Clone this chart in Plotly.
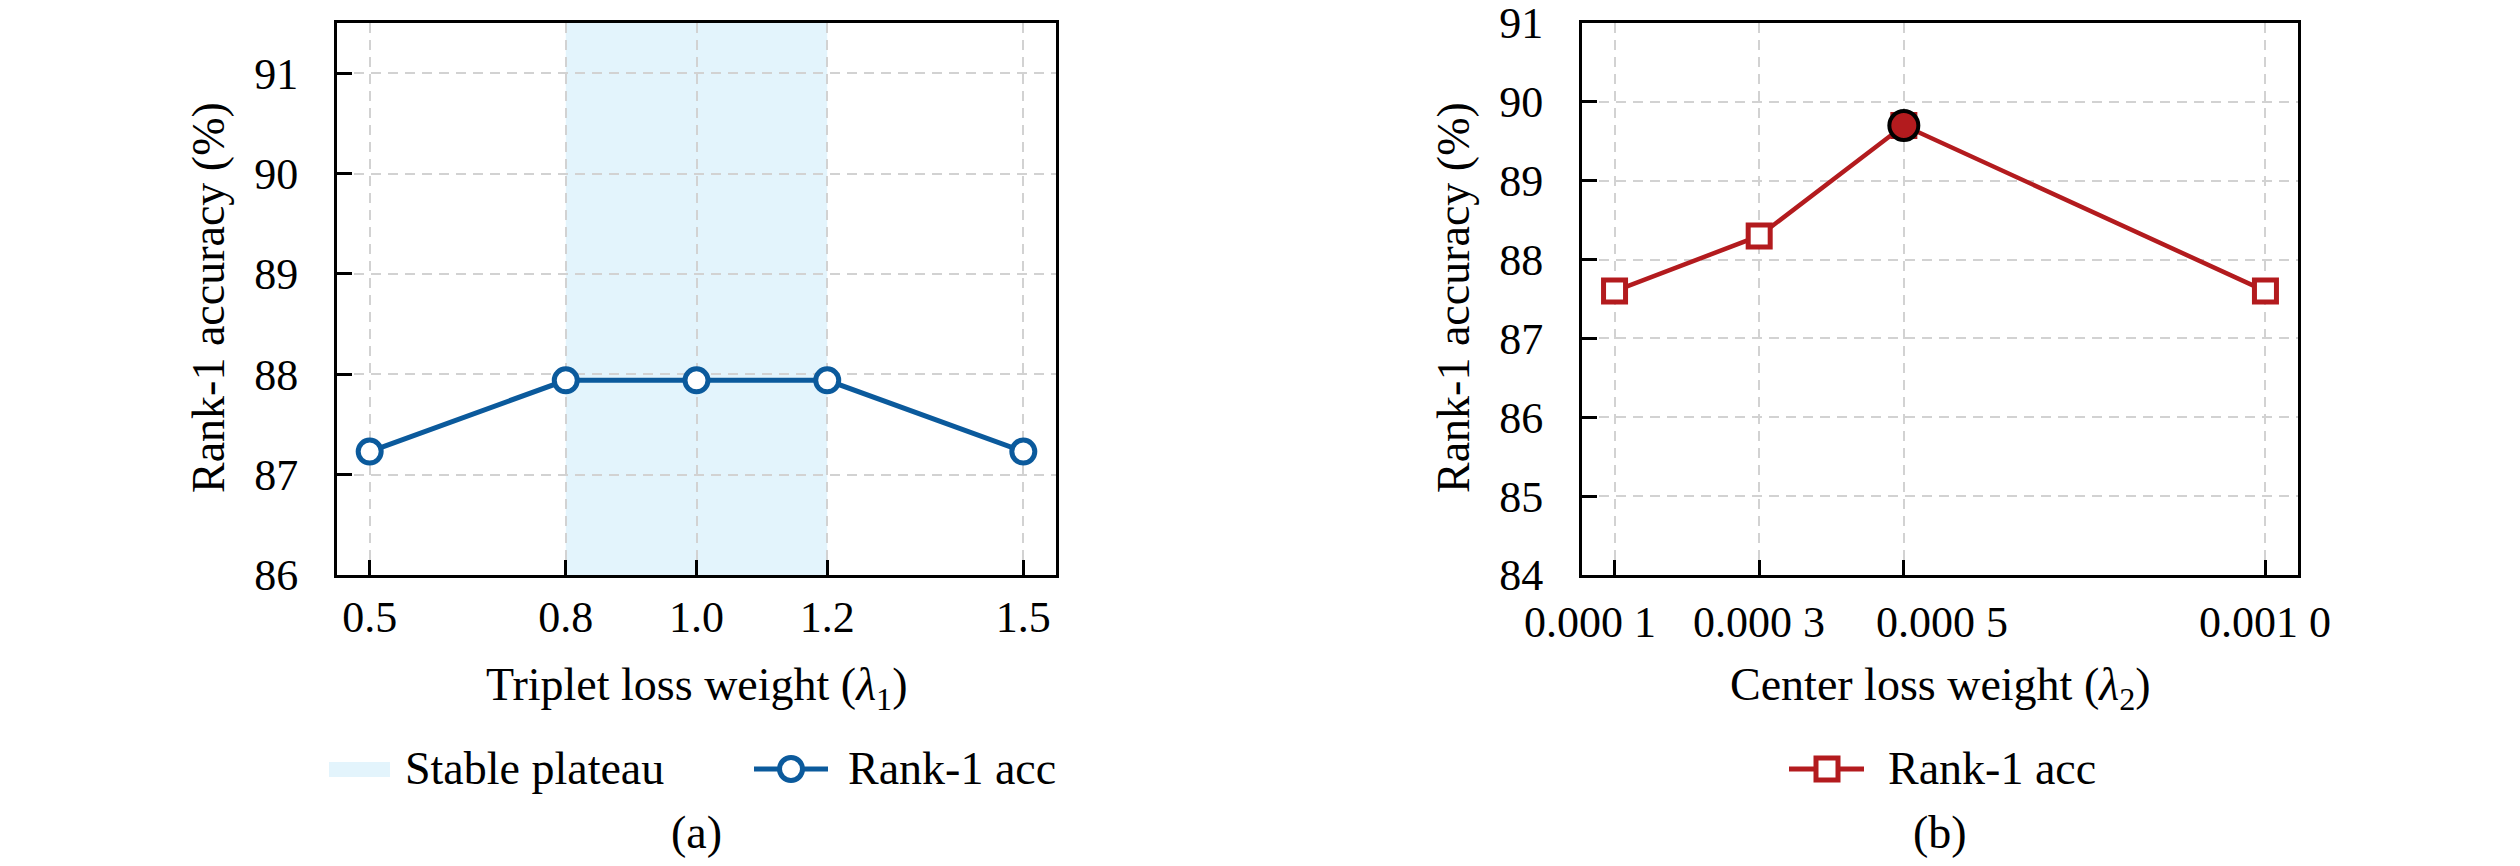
import numpy as np
import plotly.graph_objects as go

# ---------------- data ----------------
lambda1 = [0.5, 0.8, 1.0, 1.2, 1.5]
acc1 = [87.23, 87.94, 87.94, 87.94, 87.23]
lambda1_ticks = ["0.5", "0.8", "1.0", "1.2", "1.5"]
plateau = [0.8, 1.2]

lambda2 = [0.0001, 0.0003, 0.0005, 0.0010]
acc2 = [87.6, 88.3, 89.7, 87.6]
lambda2_ticks = ["0.000 1", "0.000 3", "0.000 5", "0.001 0"]

y1_ticks = [86, 87, 88, 89, 90, 91]
y2_ticks = [84, 85, 86, 87, 88, 89, 90, 91]

legend1_labels = ["Stable plateau", "Rank-1 acc"]
legend2_labels = ["Rank-1 acc"]

# ---------------- style ----------------
FONT = "Liberation Serif"
FS = 46          # titles / legend text
FS_TICK = 44     # tick labels
BLUE = "#0B5A9C"
RED = "#B31B1E"
BAND = "#E3F4FC"
GRID = "#D2D2D2"
PAGE_W, PAGE_H = 2520, 866
OFF = 8                      # default page body margin
W, H = PAGE_W - 2 * OFF, PAGE_H - 2 * OFF
TOP, BOT = 23, 575           # page pixel positions of the plot frames
L1, R1 = 337, 1056
L2, R2 = 1582, 2298


def py(pix):
    return (BOT - pix) / (BOT - TOP)


def px(pix):
    return (pix - OFF) / W


# horizontal nudges (px) of the second panel's tick labels, as in the original
shift2 = [-25, 0, 38, 0]

fig = go.Figure()

fig.add_trace(go.Scatter(
    x=lambda1, y=acc1, mode="lines+markers", name="Rank-1 acc", showlegend=False,
    line=dict(color=BLUE, width=5),
    marker=dict(symbol="circle", size=23, color="white", line=dict(color=BLUE, width=5)),
    xaxis="x", yaxis="y",
))

fig.add_trace(go.Scatter(
    x=lambda2, y=acc2, mode="lines+markers", name="Rank-1 acc", showlegend=False,
    line=dict(color=RED, width=4.5),
    marker=dict(symbol="square", size=22, color="white", line=dict(color=RED, width=5)),
    xaxis="x2", yaxis="y2",
))
best = int(np.argmax(acc2))
fig.add_trace(go.Scatter(
    x=[lambda2[best]], y=[acc2[best]], mode="markers", showlegend=False,
    marker=dict(symbol="circle", size=29, color=RED, line=dict(color="black", width=4)),
    xaxis="x2", yaxis="y2",
))

fig.add_shape(
    type="rect", xref="x", yref="y domain", x0=plateau[0], x1=plateau[1], y0=0, y1=1,
    fillcolor=BAND, line=dict(width=0), layer="below",
)

axis_common = dict(
    showline=True, linecolor="black", linewidth=3, mirror=True,
    ticks="inside", ticklen=15, tickwidth=3, tickcolor="black",
    showgrid=True, gridcolor=GRID, gridwidth=2, griddash="10px,7px",
    zeroline=False, tickfont=dict(family=FONT, size=FS_TICK, color="black"),
    tickangle=0, ticklabeloverflow="allow", automargin=False,
)

fig.update_layout(
    template="none",
    width=W, height=H,
    margin=dict(l=0, r=0, t=TOP - OFF, b=H - (BOT - OFF), pad=0),
    paper_bgcolor="white", plot_bgcolor="white",
    font=dict(family=FONT, size=FS, color="black"),
    showlegend=False,
    xaxis=dict(domain=[px(L1), px(R1)], range=[0.45, 1.55], tickvals=lambda1,
               ticktext=lambda1_ticks, anchor="y", ticklabelstandoff=1, **axis_common),
    yaxis=dict(domain=[0, 1], range=[86, 91.5], tickvals=y1_ticks, anchor="x",
               ticklabelstandoff=27, **axis_common),
    xaxis2=dict(domain=[px(L2), px(R2)], range=[0.000055, 0.001045], tickvals=lambda2,
                showticklabels=False, anchor="y2", **axis_common),
    yaxis2=dict(domain=[0, 1], range=[84, 91.0001], tickvals=y2_ticks, anchor="x2",
                ticklabelstandoff=27, **axis_common),
)

ann = [
    dict(text="Triplet loss weight (<i>λ</i><sub>1</sub>)", x=px((L1 + R1) / 2), y=py(688),
         xanchor="center"),
    dict(text="Center loss weight (<i>λ</i><sub>2</sub>)", x=px((L2 + R2) / 2), y=py(688),
         xanchor="center"),
    dict(text="(a)", x=px((L1 + R1) / 2), y=py(832), xanchor="center"),
    dict(text="(b)", x=px((L2 + R2) / 2), y=py(832), xanchor="center"),
    dict(text="Rank-1 accuracy (%)", x=px(L1 - 129), y=py(298), textangle=-90,
         xanchor="center"),
    dict(text="Rank-1 accuracy (%)", x=px(L2 - 129), y=py(298), textangle=-90,
         xanchor="center"),
    # legend labels
    dict(text=legend1_labels[0], x=px(403), y=py(768), xanchor="left"),
    dict(text=legend1_labels[1], x=px(846), y=py(768), xanchor="left"),
    dict(text=legend2_labels[0], x=px(1886), y=py(768), xanchor="left"),
]
for a in ann:
    fig.add_annotation(showarrow=False, yanchor="middle", xref="paper", yref="paper",
                       font=dict(family=FONT, size=FS, color="black"), **a)

# tick labels of the second panel (placed at the data ticks)
for v, t, s in zip(lambda2, lambda2_ticks, shift2):
    fig.add_annotation(text=t, x=v, xref="x2", y=py(622), yref="paper", xshift=s,
                       showarrow=False, xanchor="center", yanchor="middle",
                       font=dict(family=FONT, size=FS_TICK, color="black"))

# ---------------- legend keys ----------------
LY = py(769)
fig.add_shape(type="rect", xref="paper", yref="paper", x0=px(329), x1=px(390),
              y0=py(777), y1=py(762), fillcolor=BAND, line=dict(width=0))
fig.add_shape(type="line", xref="paper", yref="paper", x0=px(754), x1=px(828),
              y0=LY, y1=LY, line=dict(color=BLUE, width=5))
fig.add_shape(type="circle", xref="paper", yref="paper", xsizemode="pixel",
              ysizemode="pixel", xanchor=px(791), yanchor=LY, x0=-11.5, x1=11.5,
              y0=-11.5, y1=11.5, fillcolor="white", line=dict(color=BLUE, width=5))
fig.add_shape(type="line", xref="paper", yref="paper", x0=px(1789), x1=px(1864),
              y0=LY, y1=LY, line=dict(color=RED, width=5))
fig.add_shape(type="rect", xref="paper", yref="paper", xsizemode="pixel",
              ysizemode="pixel", xanchor=px(1827), yanchor=LY, x0=-11, x1=11,
              y0=-11, y1=11, fillcolor="white", line=dict(color=RED, width=5))

fig.write_html("out.html")
